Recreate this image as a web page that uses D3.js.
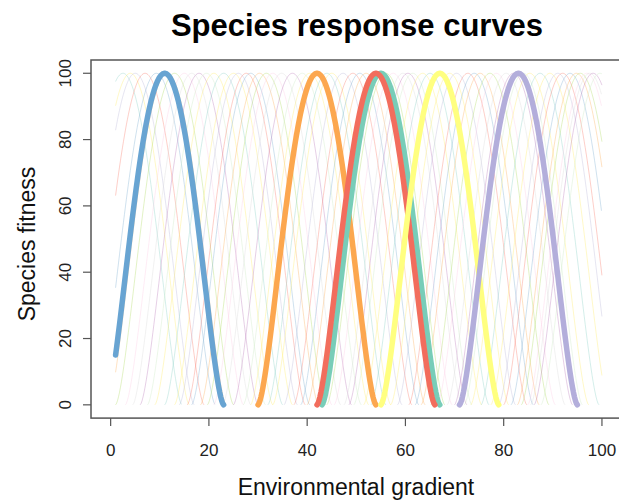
<!DOCTYPE html>
<meta charset="utf-8">
<style>
  body { margin: 0; background: #fff; }
  .title { font: bold 31px "Liberation Sans", Arial, sans-serif; }
  .lab { font: 23px "Liberation Sans", Arial, sans-serif; fill: #111; }
  .tick { font: 17px "Liberation Sans", Arial, sans-serif; fill: #222; }
</style>
<body>
<script src="https://d3js.org/d3.v7.min.js"></script>
<div id="chart"></div>
<script>

// species optima along the gradient (faint background species)
var faintOptima = [2.5, 4, 5, 7, 9.3, 11.5, 13, 15, 16.5, 18, 19.5, 21, 23, 25, 26, 27.6,
  28.5, 30.3, 31.7, 33, 34.8, 37, 39, 40.5, 44, 45, 47.3, 49.3, 50.7, 52, 56, 57.5,
  59.5, 60.5, 61.5, 63.5, 65, 69, 70.4, 72.7, 74, 75.2, 77.2, 78.5, 80.5, 82, 84,
  85.3, 87.4, 89.4, 91, 92, 93.5, 94.8, 95.6, 96.9, 97.5, 98.2, 99.6];
var faintColors = ["#8DD3C7", "#FFED6F", "#BEBADA", "#FB8072", "#80B1D3", "#FDB462",
  "#B3DE69", "#FCCDE5", "#D9D9D9", "#BC80BD", "#CCEBC5", "#FFED6F"];

// highlighted species
var hiOptima = [11, 42, 55, 54, 67, 83];
var hiColors = ["#68a4d2", "#fca74f", "#78cdb8", "#f26d5d", "#ffff80", "#b3aedb"];

var xTicks = [0, 20, 40, 60, 80, 100];
var yTicks = [0, 20, 40, 60, 80, 100];

var tol = 12, shape = 1.6, gradMin = 1, gradMax = 100;

function fitness(x, opt) {
  var u = (x - opt) / tol;
  if (Math.abs(u) >= 1) return 0;
  return 100 * Math.pow(1 - u * u, shape);
}

function curve(opt) {
  var a = Math.max(gradMin, opt - tol), b = Math.min(gradMax, opt + tol);
  var pts = [];
  for (var x = a; x <= b + 1e-9; x += 0.2) pts.push([x, fitness(x, opt)]);
  return pts;
}

var width = 619, height = 501;

var svg = d3.select("#chart").append("svg")
  .attr("width", width)
  .attr("height", height);

var x = d3.scaleLinear().domain([-4, 104]).range([91, 621.6]);
var y = d3.scaleLinear().domain([-4, 104]).range([418.1, 60]);

var line = d3.line()
  .x(function(d) { return x(d[0]); })
  .y(function(d) { return y(d[1]); });

svg.append("g").selectAll("path")
  .data(faintOptima)
  .enter().append("path")
  .attr("d", function(d) { return line(curve(d)); })
  .style("fill", "none")
  .style("stroke", function(d, i) { return faintColors[i % faintColors.length]; })
  .style("stroke-opacity", 0.38)
  .style("stroke-width", 1);

svg.append("g").selectAll("path")
  .data(hiOptima)
  .enter().append("path")
  .attr("d", function(d) { return line(curve(d)); })
  .style("fill", "none")
  .style("stroke", function(d, i) { return hiColors[i]; })
  .style("stroke-width", 5.5)
  .style("stroke-linecap", "round")
  .style("stroke-linejoin", "round");

// box
svg.append("rect")
  .attr("x", x(-4)).attr("y", y(104))
  .attr("width", x(104) - x(-4)).attr("height", y(-4) - y(104))
  .style("fill", "none").style("stroke", "#555").style("stroke-width", 1.5);

// x axis
var xa = svg.append("g");
xa.selectAll("line").data(xTicks).enter().append("line")
  .attr("x1", function(d) { return x(d); }).attr("x2", function(d) { return x(d); })
  .attr("y1", y(-4)).attr("y2", y(-4) + 8)
  .style("stroke", "#555").style("stroke-width", 1.2);
xa.selectAll("text").data(xTicks).enter().append("text")
  .attr("class", "tick")
  .attr("x", function(d) { return x(d); }).attr("y", 456)
  .attr("text-anchor", "middle")
  .text(function(d) { return d; });

// y axis
var ya = svg.append("g");
ya.selectAll("line").data(yTicks).enter().append("line")
  .attr("y1", function(d) { return y(d); }).attr("y2", function(d) { return y(d); })
  .attr("x1", x(-4)).attr("x2", x(-4) - 8)
  .style("stroke", "#555").style("stroke-width", 1.2);
ya.selectAll("text").data(yTicks).enter().append("text")
  .attr("class", "tick")
  .attr("transform", function(d) { return "translate(71," + y(d) + ") rotate(-90)"; })
  .attr("text-anchor", "middle")
  .text(function(d) { return d; });

svg.append("text").attr("class", "title")
  .attr("x", 357).attr("y", 36).attr("text-anchor", "middle")
  .text("Species response curves");

svg.append("text").attr("class", "lab")
  .attr("x", 356).attr("y", 495).attr("text-anchor", "middle")
  .text("Environmental gradient");

svg.append("text").attr("class", "lab")
  .attr("transform", "translate(35,244) rotate(-90)")
  .attr("text-anchor", "middle")
  .text("Species fitness");

</script>
</body>
</html>
